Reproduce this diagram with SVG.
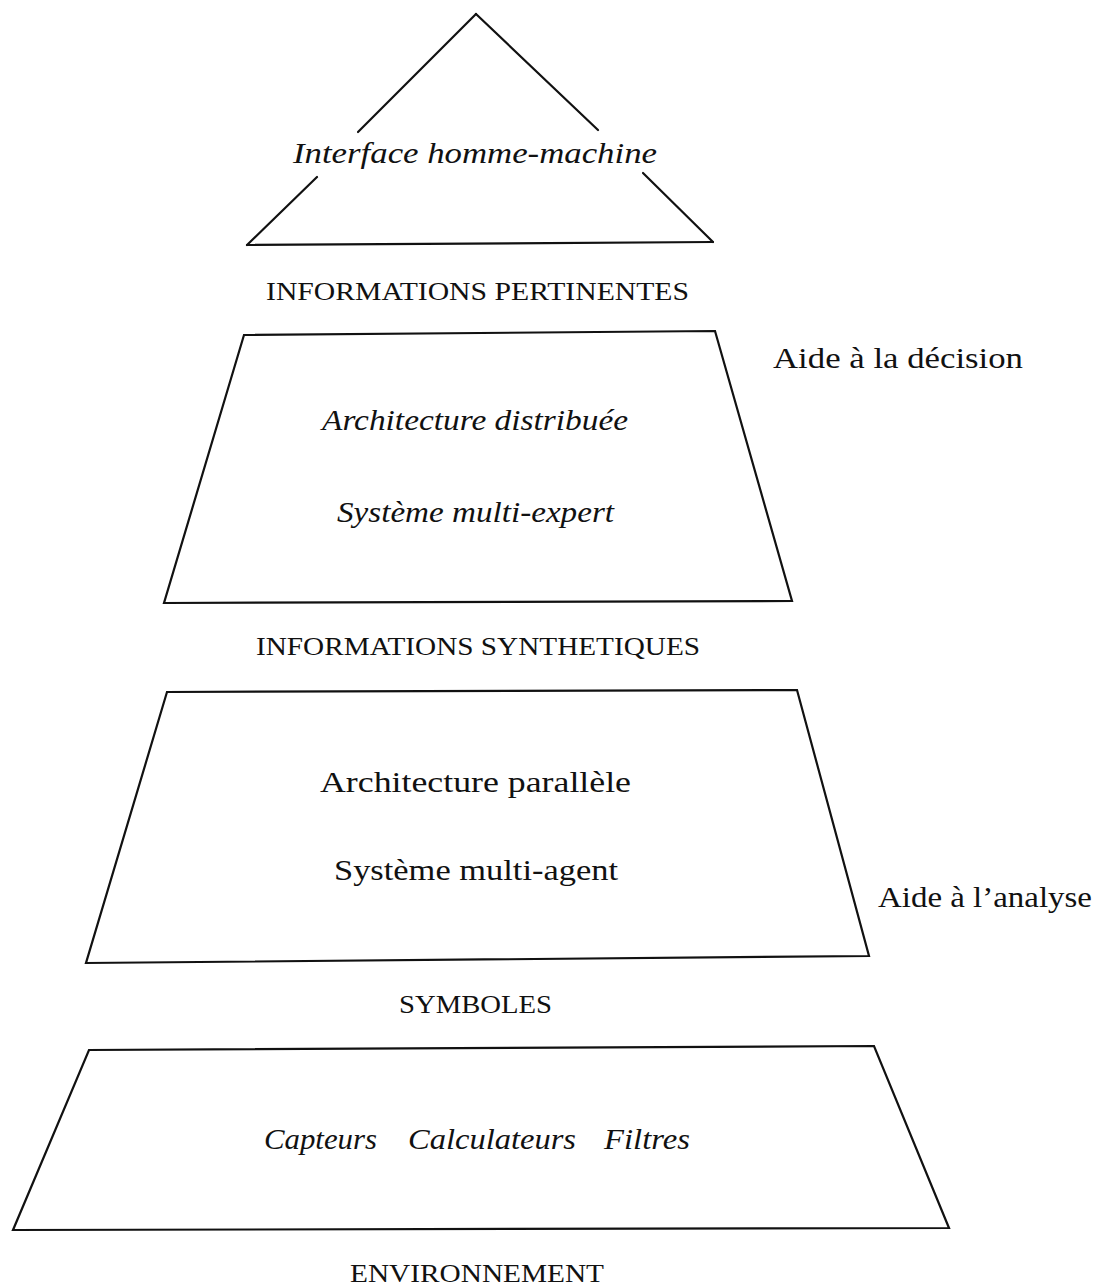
<svg xmlns="http://www.w3.org/2000/svg" width="1111" height="1286" viewBox="0 0 1111 1286">
  <style>
    .shape { fill: none; stroke: #111; stroke-width: 2.2; stroke-linejoin: miter; stroke-linecap: round; }
    .t { font-family: "Liberation Serif", "Times New Roman", serif; fill: #111; }
    .it { font-style: italic; }
    .big { font-size: 30px; }
    .cap { font-size: 25px; }
  </style>
  <rect width="1111" height="1286" fill="#ffffff"/>

  <g id="node-interface">
    <line class="shape" x1="476" y1="14" x2="358" y2="132"/>
    <line class="shape" x1="476" y1="14" x2="598" y2="130"/>
    <line class="shape" x1="317" y1="177" x2="247" y2="245"/>
    <line class="shape" x1="643" y1="173" x2="713" y2="242"/>
    <line class="shape" x1="247" y1="245" x2="713" y2="242"/>
    <text class="t it big" x="293" y="163" textLength="364" lengthAdjust="spacingAndGlyphs">Interface homme-machine</text>
  </g>

  <g id="label-informations-pertinentes">
    <text class="t cap" x="266" y="300" textLength="423" lengthAdjust="spacingAndGlyphs">INFORMATIONS PERTINENTES</text>
  </g>

  <g id="node-distribuee">
    <polygon class="shape" points="244,335 715,331 792,601 164,603"/>
    <text class="t it big" x="322" y="430" textLength="306" lengthAdjust="spacingAndGlyphs">Architecture distribuée</text>
    <text class="t it big" x="337" y="522" textLength="277" lengthAdjust="spacingAndGlyphs">Système multi-expert</text>
  </g>

  <g id="label-aide-decision">
    <text class="t big" x="773" y="368" textLength="250" lengthAdjust="spacingAndGlyphs">Aide à la décision</text>
  </g>

  <g id="label-informations-synthetiques">
    <text class="t cap" x="256" y="655" textLength="444" lengthAdjust="spacingAndGlyphs">INFORMATIONS SYNTHETIQUES</text>
  </g>

  <g id="node-parallele">
    <polygon class="shape" points="167,692 797,690 869,956 86,963"/>
    <text class="t big" x="320" y="792" textLength="311" lengthAdjust="spacingAndGlyphs">Architecture parallèle</text>
    <text class="t big" x="334" y="880" textLength="284" lengthAdjust="spacingAndGlyphs">Système multi-agent</text>
  </g>

  <g id="label-aide-analyse">
    <text class="t big" x="878" y="907" textLength="214" lengthAdjust="spacingAndGlyphs">Aide à l’analyse</text>
  </g>

  <g id="label-symboles">
    <text class="t cap" x="399" y="1013" textLength="153" lengthAdjust="spacingAndGlyphs">SYMBOLES</text>
  </g>

  <g id="node-capteurs">
    <polygon class="shape" points="89,1050 874,1046 949,1228 13,1230"/>
    <text class="t it big" x="264" y="1149" textLength="113" lengthAdjust="spacingAndGlyphs">Capteurs</text>
    <text class="t it big" x="408" y="1149" textLength="168" lengthAdjust="spacingAndGlyphs">Calculateurs</text>
    <text class="t it big" x="604" y="1149" textLength="86" lengthAdjust="spacingAndGlyphs">Filtres</text>
  </g>

  <g id="label-environnement">
    <text class="t cap" x="350" y="1282" textLength="254" lengthAdjust="spacingAndGlyphs">ENVIRONNEMENT</text>
  </g>

  <g id="connectors"></g>
</svg>
